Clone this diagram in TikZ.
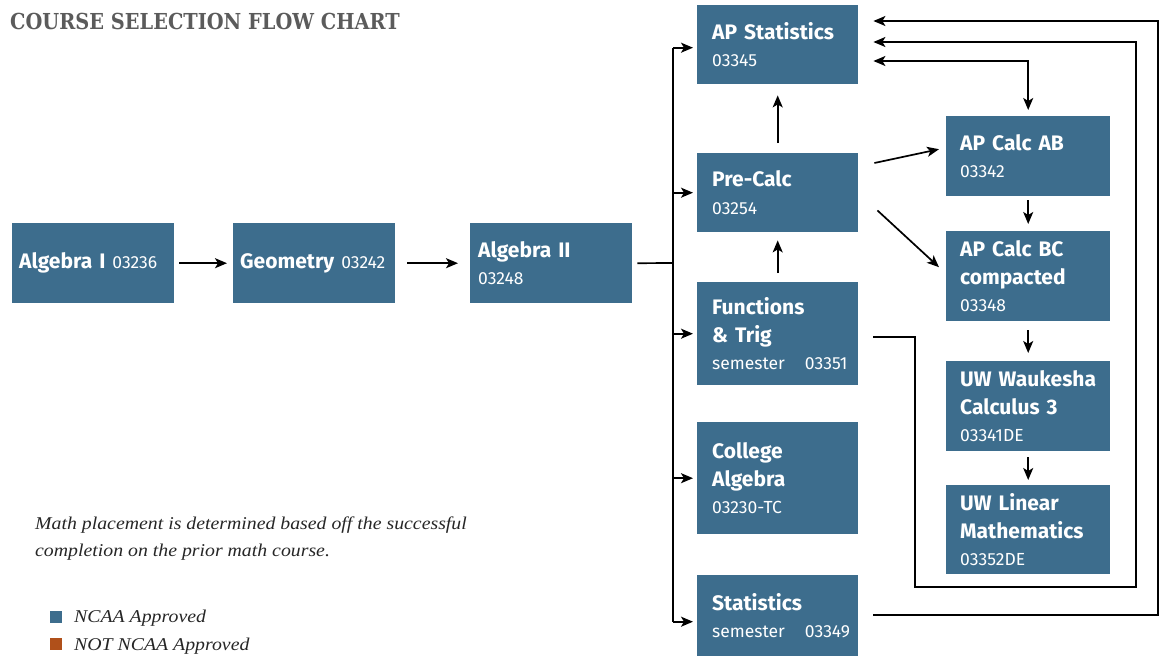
\documentclass[tikz,border=0pt]{standalone}
\usepackage{fontspec}
\setmainfont{Fira Sans}
\newfontfamily\headfont[FakeStretch=0.88,BoldFont={DejaVu Serif Bold}]{DejaVu Serif}
\newfontfamily\notefont[FakeStretch=1.1]{Liberation Serif}
\usetikzlibrary{arrows.meta,calc}
\definecolor{ncaablue}{HTML}{3D6D8D}
\definecolor{notncaa}{HTML}{B0501A}
\definecolor{headgray}{HTML}{5B5B5B}
\newcommand{\crsno}[1]{{\mdseries\fontsize{17.5}{27.5}\selectfont #1}}

\begin{document}
\begin{tikzpicture}[x=1pt,y=-1pt,>={Stealth[length=12pt,width=10pt,inset=3pt]},
	course/.style = {fill=ncaablue, text=white, anchor=north west, align=left, inner ysep=0pt,
		font=\fontsize{21}{27.5}\selectfont\bfseries},
	row/.style = {course, inner xsep=7pt, minimum width=162pt, text width=148pt, minimum height=80pt},
	mid/.style = {course, inner xsep=15pt, minimum width=161pt, text width=131pt},
	side/.style = {course, inner xsep=14pt, minimum width=164pt, text width=136pt},
	line/.style = {line width=1.7pt},
	arr/.style = {line, ->},
	note/.style = {font=\notefont\itshape\fontsize{18}{27}\selectfont, text=black!85, inner sep=0pt}]

	\useasboundingbox (0,0) rectangle (1163,656);

	% title and notes
	\node[anchor=base west, inner sep=0pt, text=headgray, font=\headfont\bfseries\fontsize{22}{22}\selectfont] (title) at (10,29) {COURSE SELECTION FLOW CHART};
	\node[note, anchor=north west, align=left] (placement) at (35,517) {Math placement is determined based off the successful\\completion on the prior math course.};
	\node[fill=ncaablue, minimum size=12pt, inner sep=0pt] (key1) at (56,617) {};
	\node[fill=notncaa, minimum size=12pt, inner sep=0pt] (key2) at (56,644) {};
	\node[note, anchor=base west] (key1 text) at (74,622) {NCAA Approved};
	\node[note, anchor=base west] (key2 text) at (74,650) {NOT NCAA Approved};

	% courses
	\node[row] (alg1) at (12,223) {Algebra~I~\crsno{03236}};
	\node[row] (geo) at (233,223) {Geometry~\crsno{03242}};
	\node[row, inner xsep=8pt, text width=146pt] (alg2) at (470,223) {Algebra~II\\\crsno{03248}};

	\node[mid, minimum height=79pt] (apstat) at (697,5) {AP~Statistics\\\crsno{03345}};
	\node[mid, minimum height=79pt] (precalc) at (697,153) {Pre-Calc\\\crsno{03254}};
	\node[mid, minimum height=103pt] (func) at (697,282) {Functions\\\&~Trig\\\crsno{\mbox{semester\hspace{20pt}03351}}};
	\node[mid, minimum height=112pt] (colalg) at (697,422) {College\\Algebra\\\crsno{03230-TC}};
	\node[mid, minimum height=81pt] (stat) at (697,575) {Statistics\\\crsno{\mbox{semester\hspace{20pt}03349}}};

	\node[side, minimum height=80pt] (apab) at (946,116) {AP~Calc~AB\\\crsno{03342}};
	\node[side, minimum height=90pt] (apbc) at (946,231) {AP~Calc~BC\\compacted\\\crsno{03348}};
	\node[side, minimum height=90pt] (uwwauk) at (946,361) {UW~Waukesha\\Calculus~3\\\crsno{03341DE}};
	\node[side, minimum height=89pt] (uwlin) at (946,485) {UW~Linear\\Mathematics\\\crsno{03352DE}};

	\coordinate (fork) at (673,263);
	\coordinate (ft corner) at (915,587);
	\coordinate (ft top) at (1136,42);
	\coordinate (st top) at (1158,21);

	% connectors
	\draw[arr, shorten <=5pt, shorten >=6pt] (alg1) -- (geo);
	\draw[arr, shorten <=12pt, shorten >=12pt] (geo) -- (alg2);
	\draw[line] ($(alg2.east)+(5,0)$) -- (fork);
	\draw[line] ($(apstat.west -| fork)+(0,3)$) -- ($(stat.west -| fork)+(0,6)$);
	\draw[arr, shorten >=4pt] ($(apstat.west -| fork)+(0,3)$) -- ($(apstat.west)+(0,3)$);
	\foreach \c in {precalc,func,colalg}
		\draw[arr, shorten >=4pt] (\c.west -| fork) -- (\c.west);
	\draw[arr, shorten >=4pt] ($(stat.west -| fork)+(0,6)$) -- ($(stat.west)+(0,6)$);

	\draw[arr, shorten <=10pt, shorten >=11pt] (precalc) -- (apstat);
	\draw[arr, shorten <=9pt, shorten >=8pt] (func) -- (precalc);
	\draw[arr] ($(precalc.north east)+(16,10)$) -- ($(apab.west)+(-7,-7)$);
	\draw[arr] ($(precalc.south east)+(19,-22)$) -- ($(apbc.west)+(-7,-9)$);
	\draw[arr, shorten <=4pt, shorten >=7pt] (apab) -- (apbc);
	\draw[arr, shorten <=9pt, shorten >=8pt] (apbc) -- (uwwauk);
	\draw[arr, shorten <=6pt, shorten >=5pt] (uwwauk) -- (uwlin);

	\draw[line, <->, shorten >=6pt] ($(apstat.north east)+(15,56)$) -| (apab.north);
	\draw[arr] ($(func.east)+(15,3)$) -| (ft corner) -| (ft top) -- ($(apstat.north east)+(15,37)$);
	\draw[arr] ($(stat.east)+(15,-1)$) -| (st top) -- ($(apstat.north east)+(15,16)$);

\end{tikzpicture}
\end{document}
